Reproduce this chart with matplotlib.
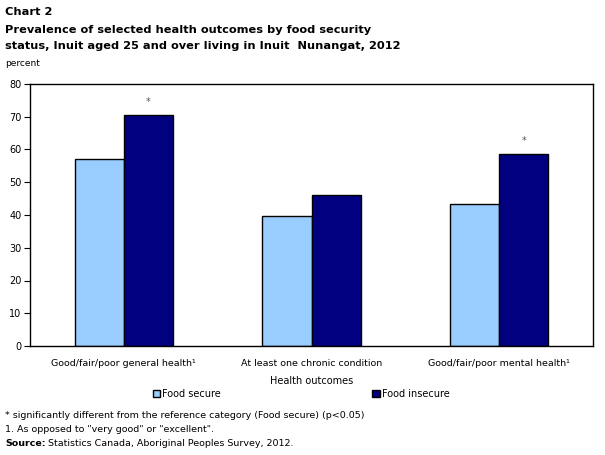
import matplotlib
matplotlib.use("Agg")
import matplotlib.pyplot as plt
import numpy as np

categories = ["Good/fair/poor general health\u00b9", "At least one chronic condition", "Good/fair/poor mental health\u00b9"]
food_secure = [57.2, 39.6, 43.5]
food_insecure = [70.4, 46.2, 58.5]
insecure_sig = ["*", "", "*"]
yticks = [0, 10, 20, 30, 40, 50, 60, 70, 80]

plt.rcParams['font.family'] = ['DejaVu Sans']

fig = plt.figure(figsize=(6.05, 4.55), dpi=100)
ax = fig.add_axes([30/605, 1-346/455, 563/605, 262/455])

x = np.arange(len(categories))
w = 0.262
ax.bar(x - w/2, food_secure, w, color="#99CCFF", edgecolor="black", linewidth=1, label="Food secure")
ax.bar(x + w/2, food_insecure, w, color="#000080", edgecolor="black", linewidth=1, label="Food insecure")
for xi, v, s in zip(x, food_insecure, insecure_sig):
    if s:
        ax.text(xi + w/2, v + 4.2, s, ha="center", va="center", fontsize=7, color="#555555")

ax.set_xlim(-0.5, 2.5)
ax.set_ylim(0, 80)
ax.set_yticks(yticks)
ax.set_yticklabels([str(t) for t in yticks], fontsize=7)
ax.set_xticks(x)
ax.set_xticklabels(categories, fontsize=6.8)
ax.tick_params(axis="x", length=0, pad=9)
ax.tick_params(axis="y", length=4, direction="out", pad=2)
for sp in ax.spines.values():
    sp.set_linewidth(1)
ax.set_xlabel("Health outcomes", fontsize=7, labelpad=6)

handles, labels = ax.get_legend_handles_labels()
fig.legend(handles, labels, loc="center", bbox_to_anchor=(301/605, 1-394/455), ncol=2,
           frameon=False, fontsize=7, handlelength=0.8, handleheight=0.8,
           handletextpad=0.2, columnspacing=15.5)

fig.text(5/605, 1-12/455, "Chart 2", fontsize=8.2, fontweight="bold", va="center")
fig.text(5/605, 1-30/455, "Prevalence of selected health outcomes by food security", fontsize=8.2, fontweight="bold", va="center")
fig.text(5/605, 1-46/455, "status, Inuit aged 25 and over living in Inuit  Nunangat, 2012", fontsize=8.2, fontweight="bold", va="center")
fig.text(5/605, 1-63/455, "percent", fontsize=6.5, va="center")

fig.text(5/605, 1-415/455, "* significantly different from the reference category (Food secure) (p<0.05)", fontsize=6.8, va="center")
fig.text(5/605, 1-430/455, "1. As opposed to \"very good\" or \"excellent\".", fontsize=6.8, va="center")
src = fig.text(5/605, 1-443/455, "Source:", fontsize=6.8, fontweight="bold", va="center")
fig.canvas.draw()
bb = src.get_window_extent()
fig.text((bb.x1 + 3)/605, 1-443/455, "Statistics Canada, Aboriginal Peoples Survey, 2012.", fontsize=6.8, va="center")

fig.savefig("out.png", dpi=100)
